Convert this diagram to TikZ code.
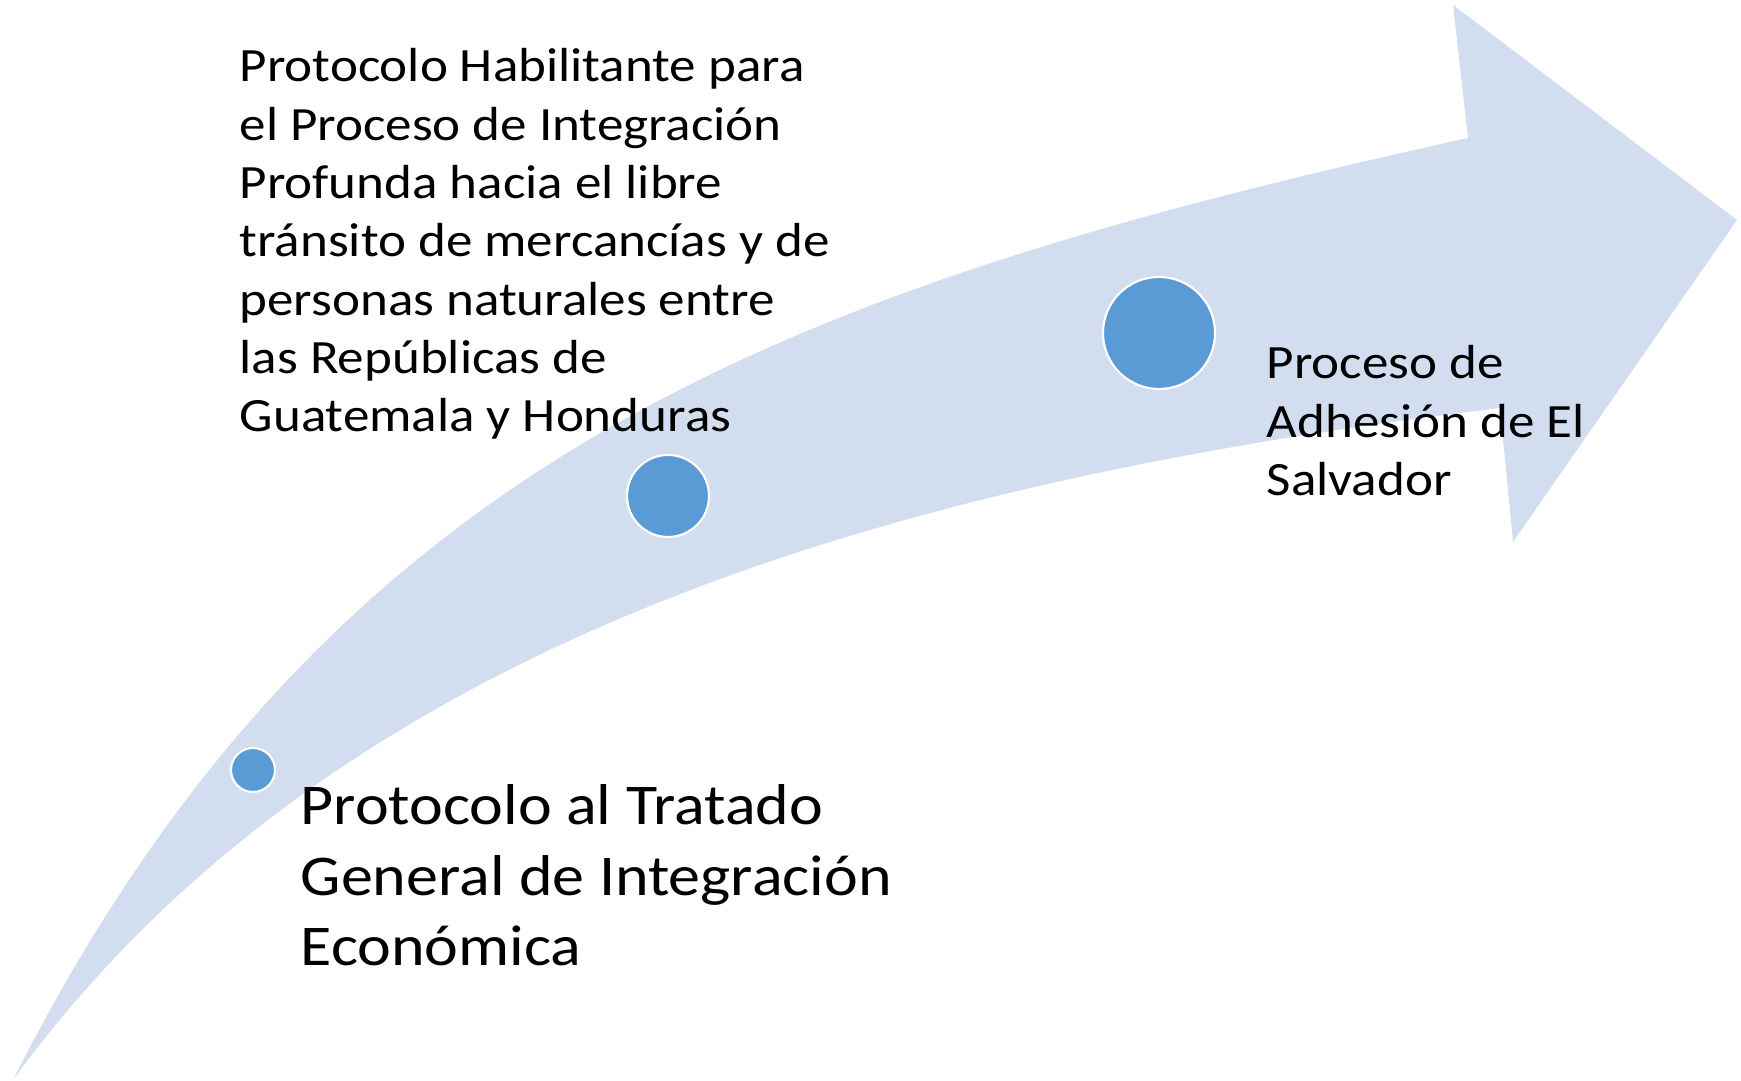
\documentclass[tikz,border=0pt]{standalone}
\usepackage{fontspec}
\setmainfont{Carlito}[FakeStretch=1.11]
\definecolor{arrowfill}{HTML}{D2DEEF}
\definecolor{dotfill}{HTML}{5B9BD5}

\begin{document}
\begin{tikzpicture}[
    dot/.style={circle, fill=dotfill, draw=white, line width=0.6pt, inner sep=0pt},
    stage/.style={align=left, anchor=north west, inner sep=0pt, font=\fontsize{13.6}{16.6}\selectfont},
    ]
    \useasboundingbox (0,0) rectangle (17.41,10.81);
    % curved arrow
    \fill[arrowfill] (0.13,0.01) .. controls (3.28,6.24) and (7.84,7.92) .. (14.68,9.43)
        -- (14.53,10.76) -- (17.37,8.61) -- (15.13,5.39) -- (15.00,6.73)
        .. controls (9.06,6.01) and (3.38,4.47) .. (0.13,0.01) -- cycle;
    % milestones
    \node[dot, minimum size=0.44cm] (first) at (2.53,3.11) {};
    \node[dot, minimum size=0.82cm] (second) at (6.68,5.85) {};
    \node[dot, minimum size=1.12cm] (third) at (11.59,7.48) {};
    \node[stage] (habilitante) at (2.39,10.33) {Protocolo Habilitante para\\el Proceso de Integración\\Profunda hacia el libre\\tránsito de mercancías y de\\personas naturales entre\\las Repúblicas de\\Guatemala y Honduras};
    \node[stage, font=\fontsize{16.4}{20.1}\selectfont] (tratado) at (3.00,2.97) {Protocolo al Tratado\\General de Integración\\Económica};
    \node[stage] (adhesion) at (12.66,7.36) {Proceso de\\Adhesión de El\\Salvador};
\end{tikzpicture}
\end{document}
